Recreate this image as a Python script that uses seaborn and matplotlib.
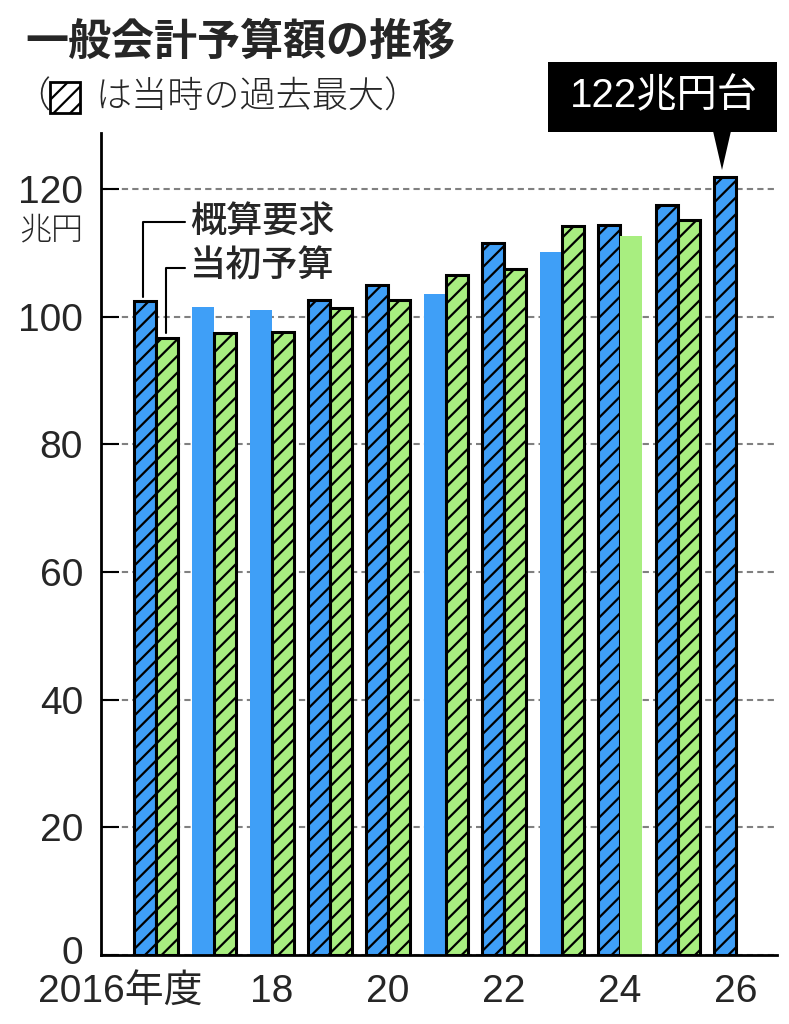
import numpy as np
import pandas as pd
import matplotlib
matplotlib.use('Agg')
import matplotlib.pyplot as plt
import matplotlib.transforms as mtransforms
from matplotlib.patches import Rectangle, Polygon
from matplotlib.lines import Line2D
import seaborn as sns

# data (trillion yen)
years = ['2016', '2017', '2018', '2019', '2020', '2021', '2022', '2023', '2024', '2025', '2026']
request = [102.4, 101.6, 101.0, 102.7, 105.0, 103.6, 111.5, 110.1, 114.4, 117.5, 121.9]
budget = [96.7, 97.4, 97.6, 101.4, 102.7, 106.5, 107.5, 114.2, 112.6, 115.2, np.nan]
# 1 = record high at the time (hatched)
request_record = [1, 0, 0, 1, 1, 0, 1, 0, 1, 1, 1]
budget_record = [1, 1, 1, 1, 1, 1, 1, 1, 0, 1, 0]
kinds = ['概算要求', '当初予算']
tick_pos = [0, 2, 4, 6, 8, 10]
tick_labels = ['2016年度', '18', '20', '22', '24', '26']
yticks = [0, 20, 40, 60, 80, 100, 120]

BLUE = '#3f9ff7'
GREEN = '#a8ee80'

df = pd.DataFrame({
    'year': years * 2,
    'kind': [kinds[0]] * len(years) + [kinds[1]] * len(years),
    'value': request + budget,
})

sns.set_style('white')
plt.rcParams['font.family'] = ['Liberation Sans', 'Noto Sans CJK JP', 'DejaVu Sans']
plt.rcParams['hatch.linewidth'] = 1.6
CJK = ['Noto Sans CJK JP', 'DejaVu Sans']

W, H = 789, 1024
fig = plt.figure(figsize=(W / 100, H / 100), dpi=100)


def fx(px):
    return px / W


def fy(py):
    return 1 - py / H


ax = fig.add_axes([fx(101), fy(955), (777 - 101) / W, (955 - 133) / H])
sns.barplot(data=df, x='year', y='value', hue='kind', order=years, hue_order=kinds,
            palette=[BLUE, GREEN], saturation=1, width=0.76, legend=False, ax=ax)

flags = [request_record, budget_record]
for ci, cont in enumerate(ax.containers):
    for bar in cont:
        if np.isnan(bar.get_height()):
            continue
        i = int(round(bar.get_x() + bar.get_width() / 2))
        if flags[ci][i]:
            bar.set_hatch('//')
            bar.set_edgecolor('black')
            bar.set_linewidth(2.2)
        else:
            bar.set_linewidth(0)

ax.set_xlim(-0.95, 10.71)
ax.set_ylim(0, 128.8)
ax.set_axisbelow(True)
ax.set_yticks(yticks)
ax.yaxis.grid(True, color='#808080', linestyle=(0, (3, 2)), linewidth=1.5)
ax.xaxis.grid(False)
ax.set_xticks(tick_pos, tick_labels)
ax.set_xlabel('')
ax.set_ylabel('')
ax.tick_params(axis='y', direction='in', length=13, width=1.5, pad=13, labelsize=28, color='black', left=True)
ax.tick_params(axis='x', length=0, pad=14, labelsize=28)
for s in ['top', 'right']:
    ax.spines[s].set_visible(False)
for s in ['left', 'bottom']:
    ax.spines[s].set_color('black')
    ax.spines[s].set_linewidth(2)

# shift the first x label left and the "0" label up like the reference
lbl = ax.get_xticklabels()[0]
lbl.set_transform(lbl.get_transform() + mtransforms.ScaledTranslation(-0.36, 0, fig.dpi_scale_trans))
zero = ax.get_yticklabels()[0]
zero.set_transform(zero.get_transform() + mtransforms.ScaledTranslation(0, 0.05, fig.dpi_scale_trans))

# unit
fig.text(fx(83), fy(230), '兆円', ha='right', va='center', fontsize=23, weight='light', family=CJK)

# title and subtitle
fig.text(fx(25), fy(42), '一般会計予算額の推移', ha='left', va='center', fontsize=31, weight='bold', family=CJK)
fig.text(fx(14), fy(97), '（', ha='left', va='center', fontsize=26, weight='light', family=CJK)
fig.add_artist(Rectangle((fx(50), fy(113)), 30 / W, 31 / H, transform=fig.transFigure,
                         facecolor='white', edgecolor='black', linewidth=2, hatch='//'))
fig.text(fx(95), fy(97), 'は当時の過去最大）', ha='left', va='center', fontsize=26, weight='light', family=CJK)

# series labels with leader lines
fig.text(fx(190), fy(222), kinds[0], ha='left', va='center', fontsize=26, weight='medium', family=CJK)
fig.text(fx(190), fy(266), kinds[1], ha='left', va='center', fontsize=26, weight='medium', family=CJK)
fig.add_artist(Line2D([fx(185), fx(143), fx(143)], [fy(222), fy(222), fy(297)],
                      transform=fig.transFigure, color='black', linewidth=1.5))
fig.add_artist(Line2D([fx(185), fx(166), fx(166)], [fy(268), fy(268), fy(333)],
                      transform=fig.transFigure, color='black', linewidth=1.5))

# callout for 2026
fig.add_artist(Rectangle((fx(548), fy(132)), (777 - 548) / W, 70 / H, transform=fig.transFigure,
                         facecolor='black', edgecolor='none'))
fig.add_artist(Polygon([[fx(713), fy(131)], [fx(731), fy(131)], [fx(722), fy(170)]],
                       closed=True, transform=fig.transFigure, facecolor='black', edgecolor='none'))
fig.text(fx(664), fy(96), '122兆円台', ha='center', va='center', fontsize=29, color='white')

fig.savefig('out.png', dpi=100)
